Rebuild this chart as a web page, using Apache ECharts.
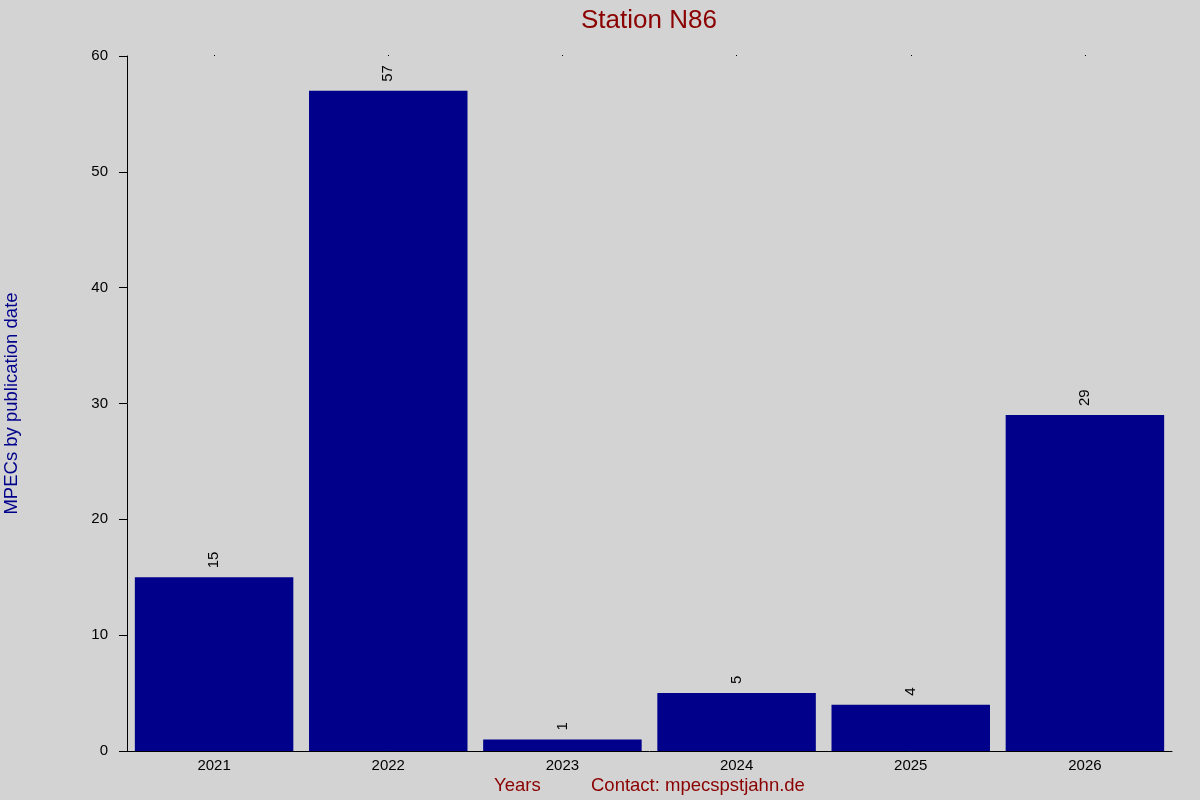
<!DOCTYPE html>
<html>
<head>
<meta charset="utf-8">
<script src="https://cdn.jsdelivr.net/npm/echarts@6/dist/echarts.min.js"></script>
<style>html,body{margin:0;padding:0;background:#d3d3d3;}#c{width:1200px;height:800px;}</style>
</head>
<body>
<div id="c"></div>
<script>
const years = ['2021','2022','2023','2024','2025','2026'];
const counts = [15, 57, 1, 5, 4, 29];
const yTicks = { min: 0, max: 60, interval: 10 };
const titleText = 'Station N86';
const yName = 'MPECs by publication date';
const xName = 'Years';
const contact = 'Contact: mpecspstjahn.de';

const chart = echarts.init(document.getElementById('c'));
const font = 'Liberation Sans, Arial, sans-serif';
chart.setOption({
  backgroundColor: '#d3d3d3',
  animation: false,
  title: {
    text: titleText, left: 576, top: 3,
    textStyle: { color: '#8b0000', fontSize: 26, fontWeight: 'normal', fontFamily: font }
  },
  graphic: [
    { type: 'text', left: 494, top: 776, style: { text: xName, fill: '#8b0000', font: '18.5px ' + font } },
    { type: 'text', left: 591, top: 776, style: { text: contact, fill: '#8b0000', font: '18.5px ' + font } }
  ],
  grid: { left: 127, right: 28, top: 56, bottom: 49, containLabel: false, outerBoundsMode: 'none' },
  xAxis: [{
    type: 'category', data: years, position: 'bottom',
    axisLine: { show: true, lineStyle: { color: '#000', width: 1 } },
    axisTick: { show: false },
    axisLabel: { color: '#000', fontSize: 15, fontFamily: font, margin: 7 }
  }, {
    type: 'category', data: years, position: 'top',
    axisLine: { show: false },
    axisTick: { show: true, alignWithLabel: true, length: 1, lineStyle: { color: '#000' } },
    axisLabel: { show: false }
  }],
  yAxis: {
    type: 'value', min: yTicks.min, max: yTicks.max, interval: yTicks.interval,
    name: yName, nameLocation: 'middle', nameGap: 106, nameRotate: 90,
    nameTextStyle: { color: '#00008b', fontSize: 18.5, fontFamily: font },
    axisLine: { show: true, lineStyle: { color: '#000', width: 1 } },
    axisTick: { show: true, length: 8, lineStyle: { color: '#000' } },
    axisLabel: { color: '#000', fontSize: 15, fontFamily: font, margin: 19 },
    splitLine: { show: false }
  },
  series: [{
    type: 'bar', data: counts, xAxisIndex: 0,
    barCategoryGap: '9%',
    itemStyle: { color: '#00008b' },
    label: {
      show: true, position: 'top', rotate: 90, align: 'left', verticalAlign: 'middle',
      distance: 8, offset: [1, 0], color: '#000', fontSize: 15, fontFamily: font
    }
  }]
});
</script>
</body>
</html>
